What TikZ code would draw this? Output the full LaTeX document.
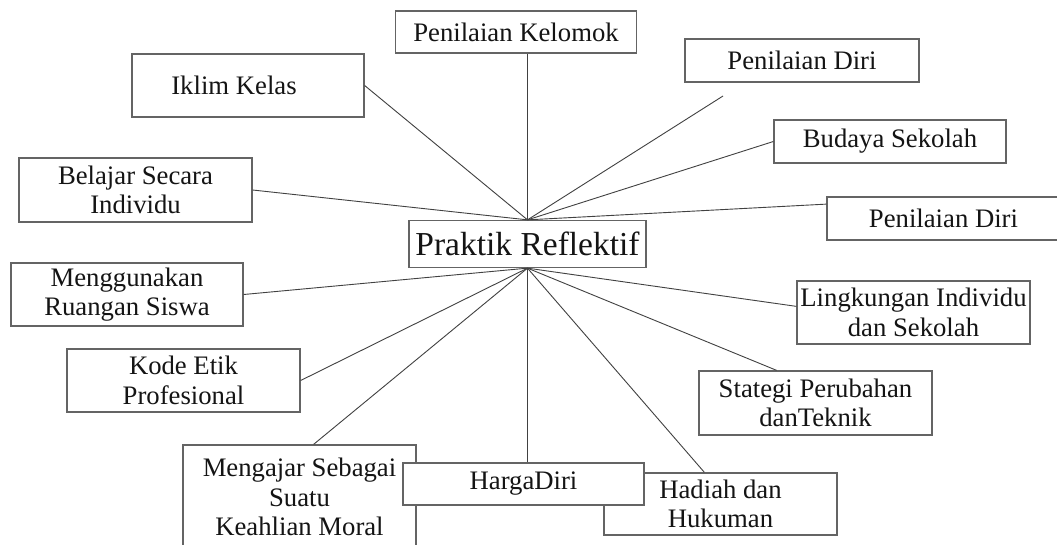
\documentclass[tikz,border=0pt]{standalone}
\usepackage{fontspec}
\setmainfont{Liberation Serif}
\usetikzlibrary{positioning,calc}
\definecolor{boxcolor}{RGB}{100,100,100}
\definecolor{linkcolor}{RGB}{65,65,65}
\definecolor{txtcolor}{RGB}{20,20,20}
\tikzset{
  box/.style={draw=boxcolor, line width=1.3pt, fill=white, text=txtcolor,
    align=center, inner sep=0pt, minimum width=233pt, minimum height=63pt,
    font=\fontsize{26.7}{29.5}\selectfont},
  single/.style={minimum height=43pt},
  link/.style={draw=linkcolor, line width=0.9pt}
}

\begin{document}
\begin{tikzpicture}[x=1pt, y=-1pt]
        \useasboundingbox (0,0) rectangle (1057,544);
        \clip (0,0) rectangle (1057,544);
        \fill[white] (0,0) rectangle (1057,544);
        % centre
        \node[box, minimum width=237pt, minimum height=47pt,
          font=\fontsize{33.5}{38}\selectfont] (ctr) at (527.5,244) {Praktik Reflektif};
        \coordinate (hubtop) at (ctr.north);
        \coordinate (hubbot) at (ctr.south);
        % upper half
        \node[box, single, minimum width=241pt, minimum height=42pt] (kelompok) at (516,32) {Penilaian Kelomok};
        \node[box, minimum width=232pt] (iklim) at (248,85.5) {Iklim Kelas\hspace*{28pt}};
        \node[box, minimum height=64pt] (belajar) at (135.5,190) {Belajar Secara\\Individu};
        \node[box, single, minimum width=234pt] (diri1) at (802,60.5) {Penilaian Diri};
        \node[box, single, minimum width=232pt] (budaya) at (890,141.5) {Budaya Sekolah};
        \node[box, single] (diri2) at (943.5,218.5) {Penilaian Diri};
        \coordinate (diriend) at (723,96);
        % lower half
        \node[box, minimum width=232pt] (ruang) at (127,294.5) {Menggunakan\\Ruangan Siswa};
        \node[box] (etik) at (183.5,380.5) {Kode Etik\\Profesional};
        \node[box, minimum height=104pt] (moral) at (299.5,497) {Mengajar Sebagai\\Suatu\\Keahlian Moral};
        \node[box, minimum height=62pt] (hadiah) at (720.5,504) {Hadiah dan\\Hukuman};
        \node[box, single, minimum width=241pt, minimum height=42pt] (harga) at (523.5,484) {HargaDiri};
        \node[box, minimum height=64pt] (strategi) at (815.5,403) {Stategi Perubahan\\danTeknik};
        \node[box] (lingkungan) at (913.5,312.5) {Lingkungan Individu\\dan Sekolah};
        % connectors
        \draw[link] (kelompok.south -| hubtop) -- (hubtop);
        \foreach \from in {iklim.east, belajar.east, diriend, budaya.west, diri2.173}
          \draw[link] (\from) -- (hubtop);
        \draw[link] (harga.north -| hubbot) -- (hubbot);
        \foreach \from in {ruang.east, etik.east, moral.75, hadiah.117, strategi.140, lingkungan.177}
          \draw[link] (\from) -- (hubbot);
      \end{tikzpicture}
\end{document}
